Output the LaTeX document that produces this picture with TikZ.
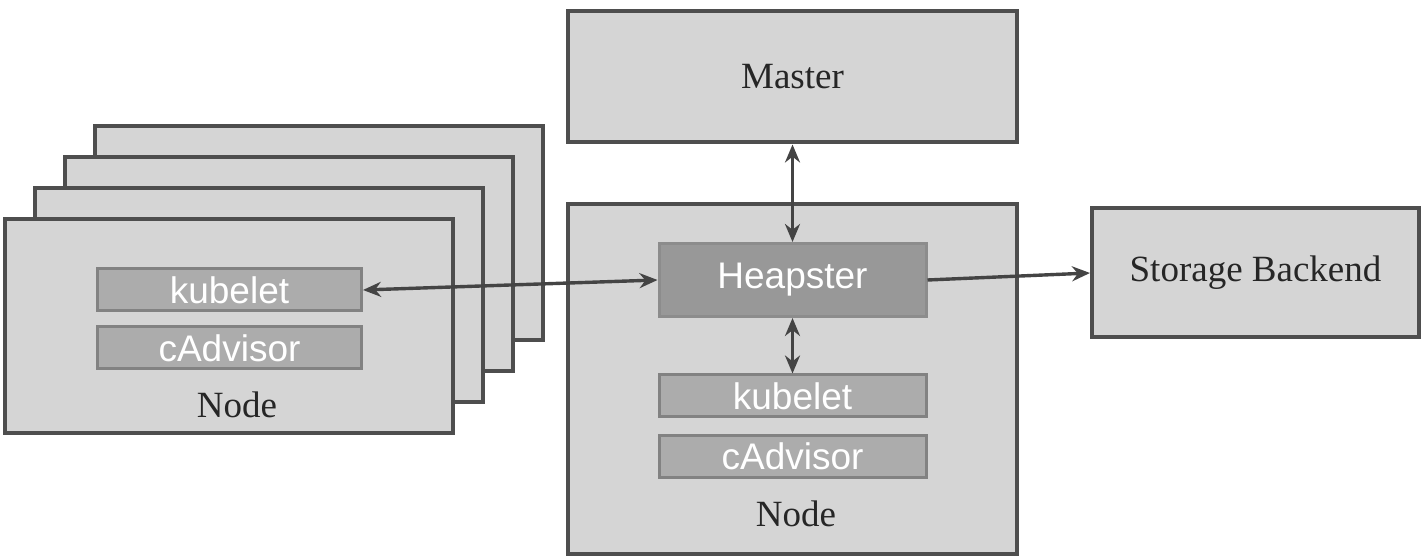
\documentclass[tikz,border=0pt]{standalone}
\usepackage{fontspec}
\setmainfont{Liberation Serif}
\setsansfont{Liberation Sans}
\usetikzlibrary{arrows.meta}
\definecolor{boxfill}{RGB}{213,213,213}
\definecolor{boxline}{RGB}{78,78,78}
\definecolor{heapfill}{RGB}{152,152,152}
\definecolor{heapline}{RGB}{140,140,140}
\definecolor{compfill}{RGB}{172,172,172}
\definecolor{compline}{RGB}{130,130,130}
\definecolor{arrowcol}{RGB}{68,68,68}
\begin{document}
\begin{tikzpicture}[x=0.5pt,y=-0.5pt,
  >={Stealth[length=9pt,width=7.5pt]},
  bigbox/.style={draw=boxline, fill=boxfill, line width=2pt, inner sep=0pt,
    font=\fontsize{18.5}{20}\selectfont, text=black!85},
  stackbox/.style={bigbox, minimum width=224pt, minimum height=107pt},
  comp/.style={draw=compline, fill=compfill, line width=1.5pt, inner sep=0pt,
    text=white, font=\sffamily\fontsize{18.5}{20}\selectfont,
    minimum width=132pt, minimum height=21pt},
  lbl/.style={font=\fontsize{18.5}{20}\selectfont, text=black!85, inner sep=0pt},
  conn/.style={draw=arrowcol, line width=1.7pt}]
\useasboundingbox (0,0) rectangle (1428,560);
% stacked nodes
\node[stackbox] (n4) at (319,233) {};
\node[stackbox] (n3) at (289,264) {};
\node[stackbox] (n2) at (259,295) {};
\node[stackbox] (n1) at (229,326) {};
\node[comp] (k1) at (229.5,290) {kubelet};
\node[comp] (c1) at (229.5,348) {cAdvisor};
\node[lbl] (l1) at (237,405) {Node};
% master
\node[bigbox, minimum width=224.5pt, minimum height=65.5pt] (master) at (792.5,77) {\raisebox{-1.5pt}{Master}};
% central node
\node[bigbox, minimum width=224.5pt, minimum height=174.5pt] (cn) at (792.5,379) {};
\node[comp, fill=heapfill, draw=heapline, minimum height=36.5pt, minimum width=133.5pt] (heap) at (792.5,280) {Heapster};
\node[comp, minimum width=133.5pt] (k2) at (792.5,396) {kubelet};
\node[comp, minimum width=133.5pt] (c2) at (792.5,456.5) {cAdvisor};
\node[lbl] (l2) at (796,514) {Node};
% storage
\node[bigbox, minimum width=163.5pt, minimum height=64.5pt] (store) at (1255.5,273) {\raisebox{-2pt}{Storage Backend}};
% connectors
\draw[conn,<->] (master.south) -- (heap.north);
\draw[conn,<->] (heap.south) -- (k2.north);
\draw[conn,<->] (k1.east) -- (heap.west);
\draw[conn,->] (heap.east) -- (store.west);
\end{tikzpicture}
\end{document}
